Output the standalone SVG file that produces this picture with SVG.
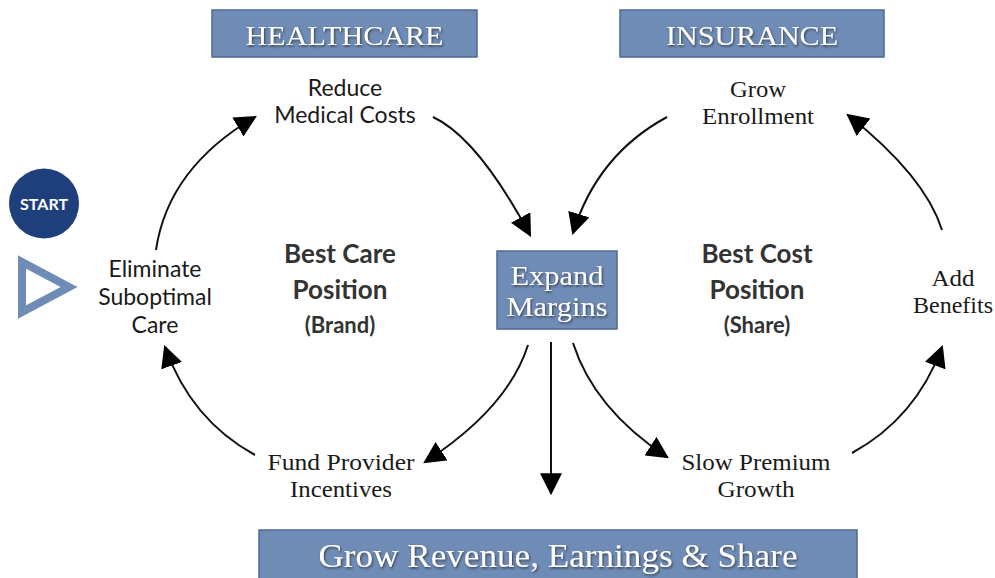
<svg xmlns="http://www.w3.org/2000/svg" width="995" height="578" viewBox="0 0 995 578">
<style>
.box{fill:#6f8cb7;stroke:#4d6993;stroke-width:1.5}
.bt{fill:#ffffff;font-family:"Liberation Serif",serif;text-anchor:middle;filter:url(#sh)}
.sans{font-family:Lato,"Noto Sans",sans-serif;fill:#1a1a1a;text-anchor:middle;font-size:23px}
.serif{font-family:"Liberation Serif",serif;fill:#1a1a1a;text-anchor:middle;font-size:23px}
.big{font-family:Lato,"Noto Sans",sans-serif;fill:#333;text-anchor:middle;font-size:26px;font-weight:bold}
.sub{font-family:Lato,"Noto Sans",sans-serif;fill:#333;text-anchor:middle;font-size:22px;font-weight:bold}
.ar{fill:none;stroke:#111;stroke-width:2;marker-end:url(#ah)}
</style>
<defs>
<filter id="sh" x="-10%" y="-20%" width="120%" height="150%">
<feDropShadow dx="1" dy="1.5" stdDeviation="0.8" flood-color="#2a2a2a" flood-opacity="0.8"/>
</filter>
<marker id="ah" viewBox="0 0 20 20" markerWidth="22" markerHeight="22" refX="18" refY="10" orient="auto" markerUnits="userSpaceOnUse">
<path d="M0,0 L20,10 L0,20 z" fill="#000"/>
</marker>
</defs>
<rect width="995" height="578" fill="#ffffff"/>

<g id="healthcare">
<rect class="box" x="212" y="10" width="265" height="47"/>
<text class="bt" x="344.5" y="45" font-size="28" textLength="198" lengthAdjust="spacingAndGlyphs">HEALTHCARE</text>
</g>
<g id="insurance">
<rect class="box" x="620" y="10" width="264" height="47"/>
<text class="bt" x="752" y="45" font-size="28" textLength="172" lengthAdjust="spacingAndGlyphs">INSURANCE</text>
</g>
<g id="start">
<circle cx="44" cy="203.5" r="35" fill="#1e3f7c"/>
<text x="44" y="210" font-family="Lato,'Noto Sans',sans-serif" font-size="16" font-weight="bold" fill="#fff" text-anchor="middle" textLength="48" lengthAdjust="spacingAndGlyphs">START</text>
</g>
<g id="play">
<polygon points="22,262 69,287 22,312" fill="none" stroke="#6f8cb7" stroke-width="8" stroke-linejoin="miter"/>
</g>
<g id="reduce">
<text class="sans" x="345" y="96">Reduce</text>
<text class="sans" x="345" y="123">Medical Costs</text>
</g>
<g id="eliminate">
<text class="sans" x="155" y="277">Eliminate</text>
<text class="sans" x="155" y="305">Suboptimal</text>
<text class="sans" x="155" y="333">Care</text>
</g>
<g id="bestcare">
<text class="big" x="340" y="263">Best Care</text>
<text class="big" x="340" y="299">Position</text>
<text class="sub" x="340" y="333">(Brand)</text>
</g>
<g id="expand">
<rect class="box" x="497" y="251" width="120" height="78"/>
<text class="bt" x="557" y="285" font-size="28" textLength="93" lengthAdjust="spacingAndGlyphs">Expand</text>
<text class="bt" x="557" y="316" font-size="28" textLength="101" lengthAdjust="spacingAndGlyphs">Margins</text>
</g>
<g id="bestcost">
<text class="big" x="757" y="263">Best Cost</text>
<text class="big" x="757" y="299">Position</text>
<text class="sub" x="757" y="333">(Share)</text>
</g>
<g id="grow">
<text class="serif" x="758" y="97" textLength="56" lengthAdjust="spacingAndGlyphs">Grow</text>
<text class="serif" x="758" y="124" textLength="112" lengthAdjust="spacingAndGlyphs">Enrollment</text>
</g>
<g id="add">
<text class="serif" x="953" y="286" textLength="43" lengthAdjust="spacingAndGlyphs">Add</text>
<text class="serif" x="953" y="313" textLength="80" lengthAdjust="spacingAndGlyphs">Benefits</text>
</g>
<g id="fund">
<text class="serif" x="341" y="470" textLength="147" lengthAdjust="spacingAndGlyphs">Fund Provider</text>
<text class="serif" x="341" y="497" textLength="102" lengthAdjust="spacingAndGlyphs">Incentives</text>
</g>
<g id="slow">
<text class="serif" x="756" y="470" textLength="149" lengthAdjust="spacingAndGlyphs">Slow Premium</text>
<text class="serif" x="756" y="497" textLength="77" lengthAdjust="spacingAndGlyphs">Growth</text>
</g>
<g id="revenue">
<rect class="box" x="259" y="530" width="598" height="60"/>
<text class="bt" x="558" y="567" font-size="33" textLength="479" lengthAdjust="spacingAndGlyphs">Grow Revenue, Earnings &amp; Share</text>
</g>

<g id="connectors">
<path class="ar" d="M156,250 Q168,168 255,117"/>
<path class="ar" d="M433,117 Q478,138 530,235"/>
<path class="ar" d="M667,117 Q597,155 573,233"/>
<path class="ar" d="M942,230 Q925,176 848,115"/>
<path class="ar" d="M255,455 Q191,420 165,347"/>
<path class="ar" d="M528,345 Q508,408 425,462"/>
<path class="ar" d="M551,342 L551,493"/>
<path class="ar" d="M573,343 Q594,409 667,457"/>
<path class="ar" d="M852,453 Q916,418 942,347"/>
</g>
</svg>
